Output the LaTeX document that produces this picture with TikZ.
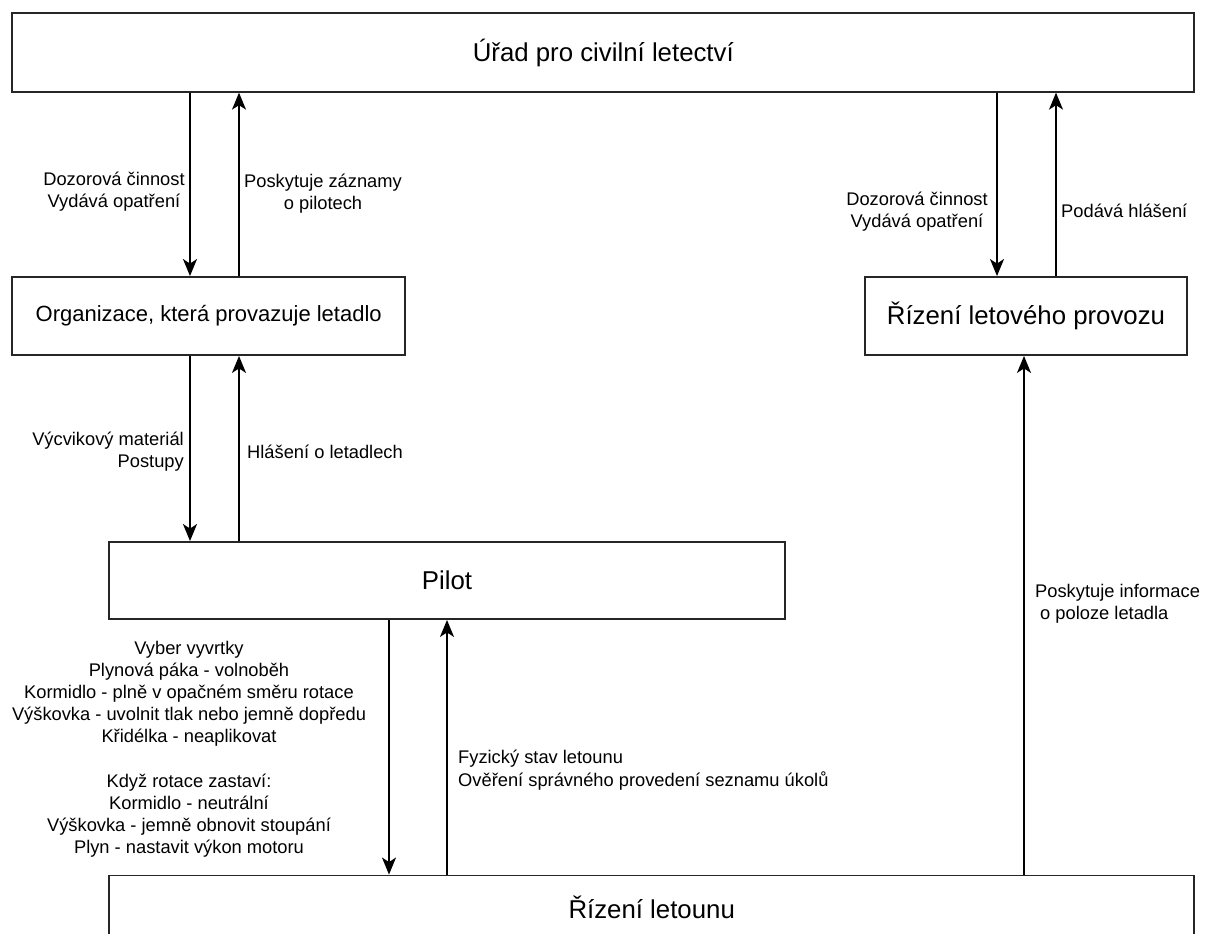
\documentclass[tikz,border=0pt]{standalone}
\usepackage{fontspec}
\setmainfont{Liberation Sans}
\usetikzlibrary{arrows.meta}
\begin{document}
\begin{tikzpicture}[x=1pt,y=-1pt,
  box/.style={draw=black!85, line width=1.9pt, rectangle, inner sep=0pt,
    font=\fontsize{25.8}{30}\selectfont},
  arr/.style={draw=black, line width=1.5pt, -{Stealth[length=17pt,width=14pt,inset=4.5pt]}},
  lbl/.style={inner sep=0pt, font=\fontsize{18.3}{22}\selectfont}]
\useasboundingbox (0,0) rectangle (1205,934);
\clip (0,0) rectangle (1205,934);

% boxes
\node[box, minimum width=1182pt, minimum height=78.4pt] (ucl) at (603.3,52.5) {Úřad pro civilní letectví};
\node[box, minimum width=392.7pt, minimum height=78pt, font=\fontsize{22}{26}\selectfont] (org) at (208.7,316) {Organizace, která provazuje letadlo};
\node[box, minimum width=322pt, minimum height=78pt] (atc) at (1026,316) {Řízení letového provozu};
\node[box, minimum width=676pt, minimum height=77pt] (pilot) at (447,580.5) {Pilot};
\node[box, minimum width=1085.3pt, minimum height=64pt] (rl) at (651.7,907.5) {Řízení letounu};

% connector columns
\coordinate (cA) at (190,0);
\coordinate (cB) at (239,0);
\coordinate (cC) at (997,0);
\coordinate (cD) at (1056,0);
\coordinate (cE) at (389,0);
\coordinate (cF) at (447,0);
\coordinate (cG) at (1024,0);

% connectors
\draw[arr] (ucl.south -| cA) -- (org.north -| cA);
\draw[arr] (org.north -| cB) -- (ucl.south -| cB);
\draw[arr] (ucl.south -| cC) -- (atc.north -| cC);
\draw[arr] (atc.north -| cD) -- (ucl.south -| cD);
\draw[arr] (org.south -| cA) -- (pilot.north -| cA);
\draw[arr] (pilot.north -| cB) -- (org.south -| cB);
\draw[arr] (pilot.south -| cE) -- (rl.north -| cE);
\draw[arr] (rl.north -| cF) -- (pilot.south -| cF);
\draw[arr] (rl.north -| cG) -- (atc.south -| cG);

% labels
\node[lbl, align=center] (l1) at (114,192) {Dozorová činnost\\Vydává opatření};
\node[lbl, align=center] (l2) at (323,194) {Poskytuje záznamy\\o pilotech};
\node[lbl, align=center] (l3) at (917,212) {Dozorová činnost\\Vydává opatření};
\node[lbl, anchor=west] (l4) at (1061,211) {Podává hlášení};
\node[lbl, align=right, anchor=east] (l5) at (184,452) {Výcvikový materiál\\Postupy};
\node[lbl, anchor=west] (l6) at (247,452) {Hlášení o letadlech};
\node[lbl, align=center] (l7) at (189,749.5) {Vyber vyvrtky\\Plynová páka - volnoběh\\Kormidlo - plně v opačném směru rotace\\Výškovka - uvolnit tlak nebo jemně dopředu\\Křidélka - neaplikovat\\[22.6pt]Když rotace zastaví:\\Kormidlo - neutrální\\Výškovka - jemně obnovit stoupání\\Plyn - nastavit výkon motoru};
\node[lbl, align=left, anchor=west, font=\fontsize{18.3}{23.5}\selectfont] (l8) at (458,770) {Fyzický stav letounu\\Ověření správného provedení seznamu úkolů};
\node[lbl, align=left, anchor=west] (l9) at (1035,604) {Poskytuje informace\\\hspace*{5pt}o poloze letadla};
\end{tikzpicture}
\end{document}
